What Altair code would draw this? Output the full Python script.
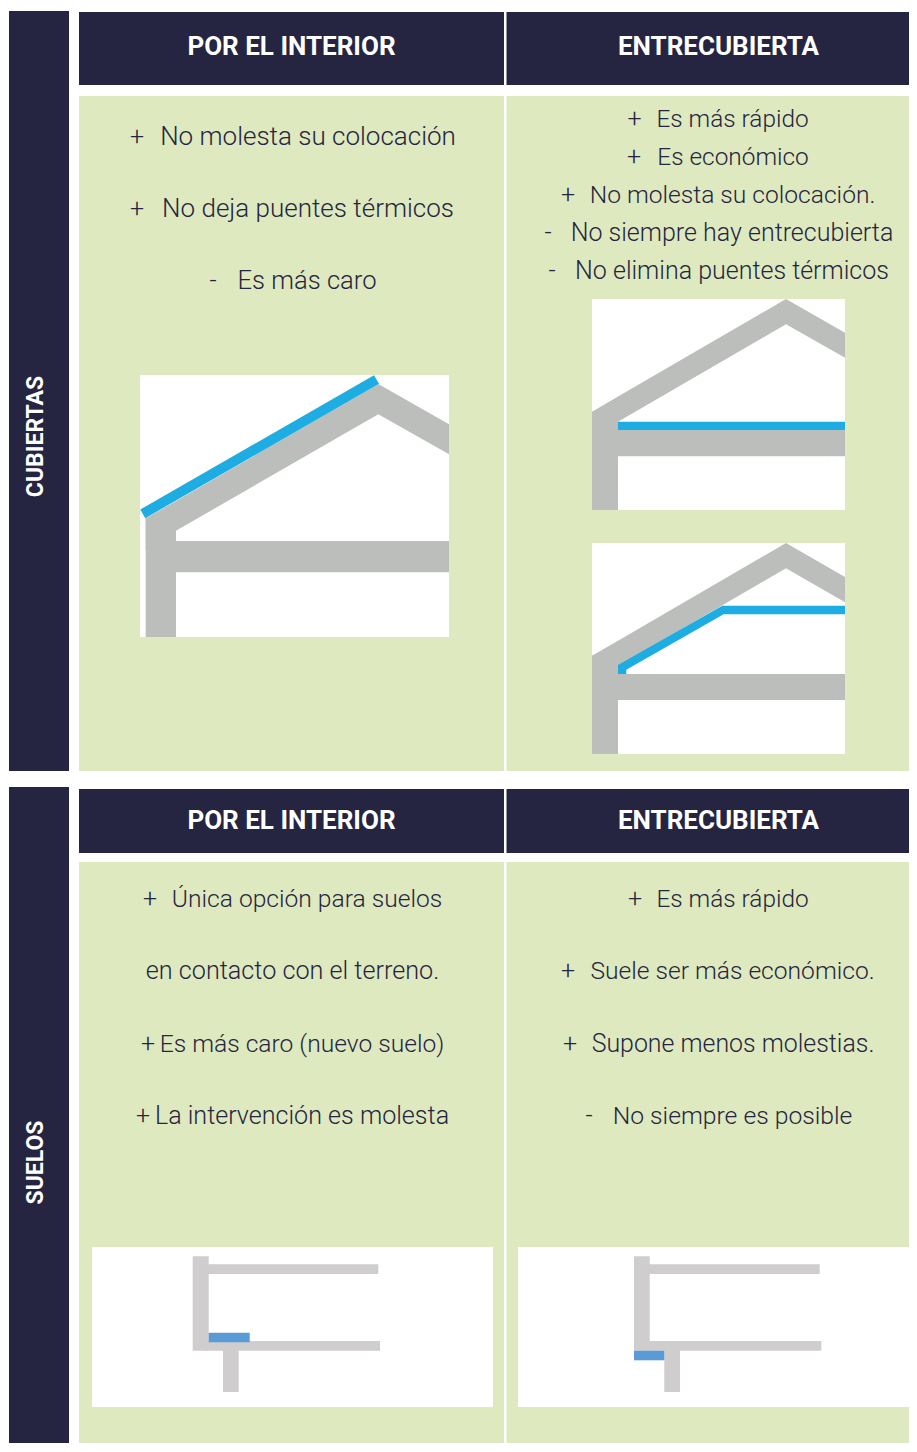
import altair as alt
import pandas as pd

DARK = "#252541"
GREEN = "#DEE9BF"
WHITE = "#FFFFFF"
GREY = "#BCBEBC"
CYAN = "#1EADE2"
FLOOR = "#CFCDCE"
BLUE = "#5B9BD5"
INK = "#252541"
BODY_FONT = "Roboto"
HEAD_FONT = "Roboto"

PLOT_W = 901
PLOT_H = 1435
RIGHT = 8 + PLOT_W
BOTTOM = 8 + PLOT_H

# rectangles: x0, x1, y0, y1, colour
panel_rects = [
    (9, 69, 11, 771, DARK), (9, 69, 787, BOTTOM, DARK),
    (79, 504, 12, 85, DARK), (506.5, 917, 12, 85, DARK),
    (79, 504, 96, 771, GREEN), (506.5, 917, 96, 771, GREEN),
    (79, 504, 789, 853, DARK), (506.5, 917, 789, 853, DARK),
    (79, 504, 862, BOTTOM, GREEN), (506.5, 917, 862, BOTTOM, GREEN),
    (140, 449, 375, 637, WHITE), (592, 845, 299, 510, WHITE),
    (592, 845, 543, 754, WHITE), (92, 493, 1247, 1407, WHITE),
    (518, 917, 1247, 1407, WHITE),
]
wall_rects = [
    (145.7, 176, 518, 637, GREY), (170, 449, 541, 572.3, GREY),
    (592, 618, 411.7, 510, GREY), (610, 845, 430, 456.3, GREY),
    (592, 618, 655.7, 754, GREY), (610, 845, 674, 700, GREY),
    (192.7, 208.7, 1256.3, 1350.7, FLOOR), (205, 378.3, 1264.3, 1274, FLOOR),
    (205, 380, 1341, 1350.7, FLOOR), (223, 238.7, 1348, 1392, FLOOR),
    (634, 649.7, 1256.3, 1350.7, FLOOR), (646, 819.7, 1264.3, 1274, FLOOR),
    (646, 821.3, 1341, 1350.7, FLOOR), (664.3, 680, 1348, 1392, FLOOR),
    (618, 845, 421.7, 430, CYAN),
    (208.7, 249.7, 1332.7, 1342.3, BLUE), (634, 664.3, 1350.7, 1360.3, BLUE),
]

# roof outlines: shape id, x, top edge, bottom edge
roof_shape = ["a"] * 4 + ["b"] * 4 + ["c"] * 4
roof_x = [145.7, 176, 378.3, 449, 592, 618, 786, 845, 592, 618, 786, 845]
roof_top = [518.3, 500.9, 384, 424.3, 411.7, 396.6, 299, 332.7, 655.7, 640.7, 543, 577]
roof_bottom = [550, 530.7, 414.3, 454.3, 440, 421.7, 324.3, 357.7, 684, 666, 568.3, 602.3]

# cyan insulation band that follows the roof and turns flat
band_x = [618, 626.3, 626.31, 722.3, 723.3, 845]
band_top = [665, 660.2, 660.2, 605.7, 605.7, 605.7]
band_bottom = [674, 674, 669.7, 615, 614.3, 614.3]

# cyan strip along the roof
strip_x = [142.8, 376.5]
strip_y = [513.8, 379.5]

# headers
head_text = ["POR EL INTERIOR", "ENTRECUBIERTA", "POR EL INTERIOR", "ENTRECUBIERTA"]
head_x = [291.5, 718.5, 291.5, 718.5]
head_y = [54.5, 54.5, 828.5, 828.5]

side_text = ["CUBIERTAS", "SUELOS"]
side_x = [43, 43]
side_y = [436.5, 1162.5]

# body lines: text, centre x, baseline y, size
body_text = [
    "No molesta su colocación", "No deja puentes térmicos", "Es más caro",
    "Es más rápido", "Es económico", "No molesta su colocación.",
    "No siempre hay entrecubierta", "No elimina puentes térmicos",
    "Única opción para suelos", "en contacto con el terreno.",
    "Es más caro (nuevo suelo)", "La intervención es molesta",
    "Es más rápido", "Suele ser más económico.", "Supone menos molestias.",
    "No siempre es posible",
]
body_x = [308, 308, 307, 732.5, 733, 732.5, 732, 732, 307, 292.5, 302, 302, 732.5, 732.5, 733, 732.5]
body_y = [145, 217, 288.5, 127.3, 165, 203, 241, 279, 907, 979, 1052, 1124, 907, 979, 1052, 1124]
body_size = [26, 26, 25.6, 24.4, 24.4, 24.6, 25, 25, 24.6, 25.2, 24.6, 25.1, 24.4, 24.6, 24.9, 24.7]

sign_text = ["+", "+", "-", "+", "+", "+", "-", "-", "+", "+", "+", "+", "+", "+", "-"]
sign_x = [137, 137, 213, 634.5, 634, 568, 548, 552, 150, 148, 143, 635, 568, 570, 589]
sign_y = [145, 217, 288.5, 127.3, 165, 203, 241, 279, 907, 1052, 1124, 907, 979, 1052, 1124]

X = alt.Scale(domain=[8, RIGHT], nice=False, zero=False, clamp=True)
Y = alt.Scale(domain=[8, BOTTOM], reverse=True, nice=False, zero=False, clamp=True)


def xq(f):
    return alt.X(f"{f}:Q", scale=X, axis=None)


def yq(f):
    return alt.Y(f"{f}:Q", scale=Y, axis=None)


def rects(rows):
    df = pd.DataFrame(rows, columns=["x0", "x1", "y0", "y1", "c"]).reset_index()
    return alt.Chart(df).mark_rect(strokeWidth=0).encode(
        x=xq("x0"), x2="x1:Q", y=yq("y0"), y2="y1:Q",
        color=alt.Color("c:N", scale=None), order="index:Q",
    )


roofs = alt.Chart(pd.DataFrame({"s": roof_shape, "x": roof_x, "t": roof_top, "b": roof_bottom})).mark_area(
    color=GREY, interpolate="linear"
).encode(x=xq("x"), y=yq("t"), y2="b:Q", detail="s:N")

band = alt.Chart(pd.DataFrame({"x": band_x, "t": band_top, "b": band_bottom})).mark_area(
    color=CYAN, interpolate="linear"
).encode(x=xq("x"), y=yq("t"), y2="b:Q")

strip = alt.Chart(pd.DataFrame({"x": strip_x, "y": strip_y})).mark_line(
    color=CYAN, strokeWidth=10, strokeCap="butt"
).encode(x=xq("x"), y=yq("y"))

heads = alt.Chart(pd.DataFrame({"t": head_text, "x": head_x, "y": head_y})).mark_text(
    font=HEAD_FONT, fontWeight=700, fontSize=26, color=WHITE, align="center", baseline="alphabetic"
).encode(x=xq("x"), y=yq("y"), text="t:N")

sides = alt.Chart(pd.DataFrame({"t": side_text, "x": side_x, "y": side_y})).mark_text(
    font=HEAD_FONT, fontWeight=700, fontSize=23, color=WHITE, align="center", baseline="alphabetic", angle=270
).encode(x=xq("x"), y=yq("y"), text="t:N")

body = alt.Chart(pd.DataFrame({"t": body_text, "x": body_x, "y": body_y, "s": body_size})).mark_text(
    font=BODY_FONT, fontWeight=300, color=INK, align="center", baseline="alphabetic"
).encode(x=xq("x"), y=yq("y"), text="t:N", size=alt.Size("s:Q", scale=None))

signs = alt.Chart(pd.DataFrame({"t": sign_text, "x": sign_x, "y": sign_y})).mark_text(
    font=BODY_FONT, fontWeight=300, fontSize=25, color=INK, align="center", baseline="alphabetic"
).encode(x=xq("x"), y=yq("y"), text="t:N")

chart = alt.layer(
    rects(panel_rects), roofs, rects(wall_rects), band, strip, heads, sides, body, signs
).properties(
    width=PLOT_W, height=PLOT_H, padding=0, autosize=alt.AutoSizeParams(type="none"), background="#FFFFFF"
).configure_view(stroke=None)

chart.save("out.html", embed_options={"renderer": "svg", "actions": False})
